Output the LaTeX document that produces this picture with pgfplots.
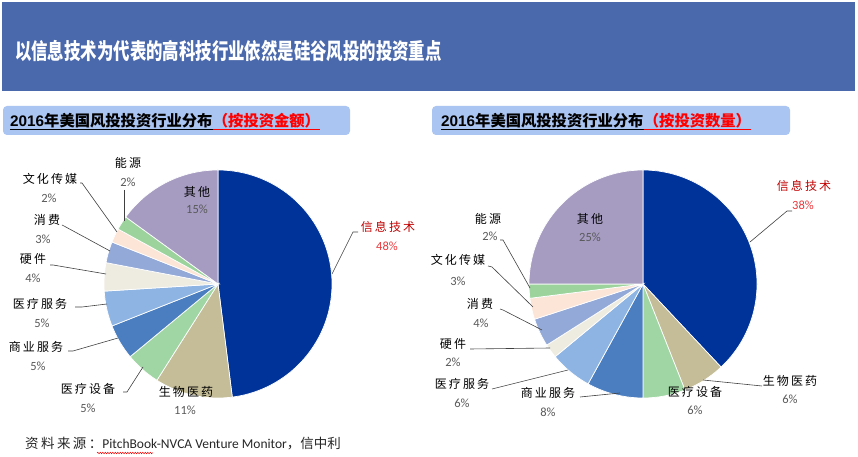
\documentclass[border=0pt]{standalone}
\usepackage{pgfplots}
\pgfplotsset{compat=1.18}
\usepackage{fontspec}
\setmainfont{Carlito}
\newfontfamily\cjk{Noto Sans CJK SC}
\newfontfamily\cjksp[LetterSpace=18]{Noto Sans CJK SC}
\newfontfamily\arialf{Liberation Sans}
\usetikzlibrary{decorations.pathmorphing}

\definecolor{banner}{HTML}{4A68AC}
\definecolor{hdr}{HTML}{AAC5F2}
\definecolor{cIT}{HTML}{003399}
\definecolor{cBio}{HTML}{C4BD97}
\definecolor{cMedEq}{HTML}{A0D5A4}
\definecolor{cBiz}{HTML}{4A7EC0}
\definecolor{cMedSv}{HTML}{8EB4E3}
\definecolor{cHW}{HTML}{EEECE1}
\definecolor{cCons}{HTML}{93A9D8}
\definecolor{cCult}{HTML}{FCE4D6}
\definecolor{cEnergy}{HTML}{9CD39C}
\definecolor{cOther}{HTML}{A69CC2}
\definecolor{pct}{HTML}{595959}
\definecolor{lead}{HTML}{404040}
\definecolor{redlab}{HTML}{C00000}
\definecolor{redpct}{HTML}{E8383C}

% slice: cx, cy, R, cumulative start (%), value (%), colour
\newcommand\slice[6]{%
  \addplot[fill=#6, draw=white, line width=0.7pt,
    domain={90-3.6*(#4+#5)}:{90-3.6*(#4)}, samples=80, variable=\t]
    ({#1+#3*cos(\t)},{#2+#3*sin(\t)}) -- (axis cs:#1,#2) -- cycle;}

\newcommand\lab[3]{\node[font=\cjksp\fontsize{12}{12}\selectfont, inner sep=0] at (#1,#2) {#3};}
\newcommand\pc[3]{\node[font=\fontsize{12.5}{12.5}\selectfont, text=pct, inner sep=0] at (#1,#2) {#3};}

\begin{document}
\begin{tikzpicture}[x=1pt,y=1pt]
\useasboundingbox (0,0) rectangle (858,457);
% banner
\fill[banner] (2,366) rectangle (855,455);
\node[anchor=west, inner sep=0, text=white, font=\cjk\bfseries\fontsize{16.4}{16.4}\selectfont, yscale=1.35] at (15,406) {以信息技术为代表的高科技行业依然是硅谷风投的投资重点};
% headers
\fill[hdr, rounded corners=4pt] (3,322) rectangle (350,351);
\fill[hdr, rounded corners=4pt] (432,322) rectangle (790,351);
\node[anchor=base west, inner sep=0, font=\cjk\bfseries\fontsize{15.3}{15.3}\selectfont] (h1) at (10,330) {{\arialf\bfseries 2016}年美国风投投资行业分布};
\node[anchor=base west, inner sep=0, font=\cjk\bfseries\fontsize{15.3}{15.3}\selectfont, text=red] (h2) at (h1.base east) {（按投资金额）};
\draw[black, line width=0.8pt] ([yshift=-2pt]h1.base west) -- ([yshift=-2pt]h1.base east);
\draw[red, line width=0.8pt] ([yshift=-2pt]h2.base west) -- ([yshift=-2pt]h2.base east);
\node[anchor=base west, inner sep=0, font=\cjk\bfseries\fontsize{15.3}{15.3}\selectfont] (h3) at (441,330) {{\arialf\bfseries 2016}年美国风投投资行业分布};
\node[anchor=base west, inner sep=0, font=\cjk\bfseries\fontsize{15.3}{15.3}\selectfont, text=red] (h4) at (h3.base east) {（按投资数量）};
\draw[black, line width=0.8pt] ([yshift=-2pt]h3.base west) -- ([yshift=-2pt]h3.base east);
\draw[red, line width=0.8pt] ([yshift=-2pt]h4.base west) -- ([yshift=-2pt]h4.base east);

\begin{axis}[at={(0,0)}, anchor=south west, scale only axis, width=858pt, height=457pt,
  xmin=0, xmax=858, ymin=0, ymax=457, hide axis, clip=false]
% left pie: amount
\slice{218}{173}{114}{0}{48}{cIT}
\slice{218}{173}{114}{48}{11}{cBio}
\slice{218}{173}{114}{59}{5}{cMedEq}
\slice{218}{173}{114}{64}{5}{cBiz}
\slice{218}{173}{114}{69}{5}{cMedSv}
\slice{218}{173}{114}{74}{4}{cHW}
\slice{218}{173}{114}{78}{3}{cCons}
\slice{218}{173}{114}{81}{2}{cCult}
\slice{218}{173}{114}{83}{2}{cEnergy}
\slice{218}{173}{114}{85}{15}{cOther}
% right pie: number of deals
\slice{643}{173}{114}{0}{38}{cIT}
\slice{643}{173}{114}{38}{6}{cBio}
\slice{643}{173}{114}{44}{6}{cMedEq}
\slice{643}{173}{114}{50}{8}{cBiz}
\slice{643}{173}{114}{58}{6}{cMedSv}
\slice{643}{173}{114}{64}{2}{cHW}
\slice{643}{173}{114}{66}{4}{cCons}
\slice{643}{173}{114}{70}{3}{cCult}
\slice{643}{173}{114}{73}{2}{cEnergy}
\slice{643}{173}{114}{75}{25}{cOther}
\end{axis}

% leader lines left
\begin{scope}[lead, line width=0.6pt]
\draw (124,267) -- (124,236);
\draw (80,274) -- (82,274) -- (117,225);
\draw (62,232) -- (64,231) -- (110,206);
\draw (50,192) -- (53,192) -- (106,183);
\draw (75,150) -- (82,150) -- (107,153);
\draw (68,106) -- (73,106) -- (118,119);
\draw (123,65) -- (127,65) -- (143,90);
\draw (332,183) -- (353,225) -- (358,225);
% right
\draw (500,217) -- (503,217) -- (530,169);
\draw (488,191) -- (492,190) -- (533,150);
\draw (500,148) -- (503,147) -- (542,127);
\draw (470,108) -- (550,109);
\draw (492,68) -- (568,87);
\draw (580,60) -- (620,64);
\draw (762,71) -- (703,77);
\draw (792,246) -- (787,246) -- (750,215);
\end{scope}

% labels left
\lab{128}{294}{能源}\pc{128}{275}{2\%}
\lab{50}{278}{文化传媒}\pc{49}{259}{2\%}
\lab{47}{237}{消费}\pc{43}{218}{3\%}
\lab{33}{198}{硬件}\pc{33}{179}{4\%}
\lab{40}{153}{医疗服务}\pc{42}{134}{5\%}
\lab{36}{110}{商业服务}\pc{38}{91}{5\%}
\lab{88}{68}{医疗设备}\pc{88}{49}{5\%}
\lab{186}{65}{生物医药}\pc{185}{47}{11\%}
\lab{197}{265}{其他}\pc{197}{248}{15\%}
\node[font=\cjksp\fontsize{12}{12}\selectfont, inner sep=0, text=redlab] at (388,230) {信息技术};
\node[font=\fontsize{12.5}{12.5}\selectfont, inner sep=0, text=redpct] at (387,211) {48\%};
% labels right
\lab{590}{238}{其他}\pc{590}{220}{25\%}
\lab{488}{238}{能源}\pc{490}{221}{2\%}
\lab{458}{197}{文化传媒}\pc{458}{176}{3\%}
\lab{480}{153}{消费}\pc{481}{134}{4\%}
\lab{453}{113}{硬件}\pc{453}{95}{2\%}
\lab{462}{73}{医疗服务}\pc{462}{54}{6\%}
\lab{548}{64}{商业服务}\pc{548}{45}{8\%}
\lab{695}{65}{医疗设备}\pc{695}{47}{6\%}
\lab{790}{76}{生物医药}\pc{790}{58}{6\%}
\node[font=\cjksp\fontsize{12}{12}\selectfont, inner sep=0, text=redlab] at (804,271) {信息技术};
\node[font=\fontsize{12.5}{12.5}\selectfont, inner sep=0, text=redpct] at (803,252) {38\%};

% source
\node[anchor=base west, inner sep=0, font=\fontsize{13.5}{13.5}\selectfont, text=black!85] (src) at (25,8) {{\cjksp 资料来源：}PitchBook-NVCA Venture Monitor{\cjk ，信中利}};
\draw[red, line width=0.5pt, decorate, decoration={snake, amplitude=0.7pt, segment length=2.5pt}] (97,4) -- (153,4);
\end{tikzpicture}
\end{document}
